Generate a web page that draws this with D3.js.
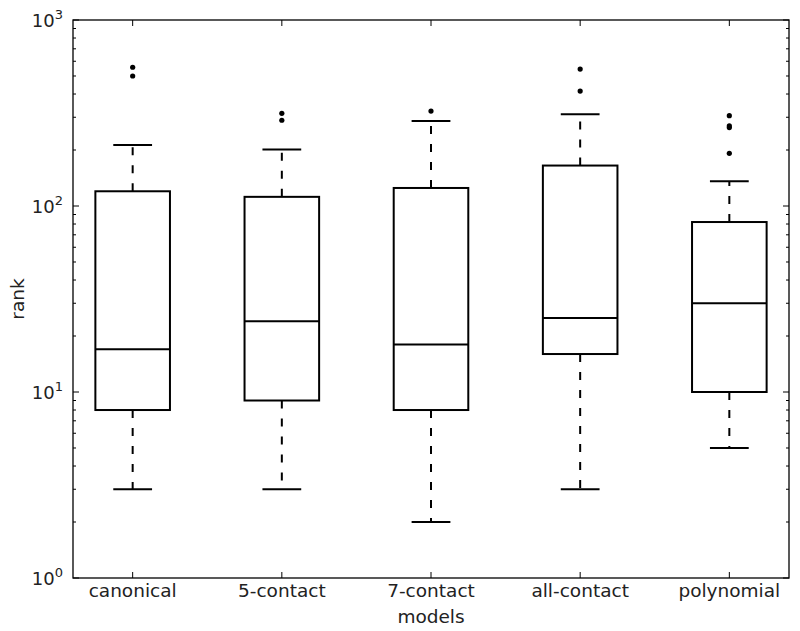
<!DOCTYPE html>
<html>
<head>
<meta charset="utf-8">
<script src="https://cdn.jsdelivr.net/npm/d3@7"></script>
<style>
body { margin: 0; background: #fff; }
svg { display: block; }
text { font-family: "DejaVu Sans", sans-serif; fill: #222; }
</style>
</head>
<body>
<svg id="chart" width="800" height="631"></svg>
<script>
const categories = ["canonical", "5-contact", "7-contact", "all-contact", "polynomial"];
const whiskerLow = [3, 3, 2, 3, 5];
const q1 = [8, 9, 8, 16, 10];
const median = [17, 24, 18, 25, 30];
const q3 = [120, 112, 125, 165, 82];
const whiskerHigh = [213, 201, 286, 311, 136];
const outliers = [[500, 557], [289, 315], [324], [415, 545], [192, 264, 270, 306]];
const yTickExps = [0, 1, 2, 3];

const svg = d3.select("#chart");
const pL = 73, pR = 789, pT = 20, pB = 578;

const x = d3.scalePoint().domain(categories).range([pL, pR]).padding(0.4);
const y = d3.scaleLog().domain([1, 1000]).range([pB, pT]);
const step = x.step();
const boxW = step * 0.5, capW = step * 0.26;

const g = svg.append("g");

categories.forEach((c, i) => {
  const cx = x(c);
  g.append("line").attr("x1", cx).attr("x2", cx).attr("y1", y(q3[i])).attr("y2", y(whiskerHigh[i]))
    .attr("stroke", "#000").attr("stroke-width", 2).attr("stroke-dasharray", "8,10");
  g.append("line").attr("x1", cx).attr("x2", cx).attr("y1", y(q1[i])).attr("y2", y(whiskerLow[i]))
    .attr("stroke", "#000").attr("stroke-width", 2).attr("stroke-dasharray", "8,10");
  [whiskerHigh[i], whiskerLow[i]].forEach(v => {
    g.append("line").attr("x1", cx - capW / 2).attr("x2", cx + capW / 2).attr("y1", y(v)).attr("y2", y(v))
      .attr("stroke", "#000").attr("stroke-width", 2);
  });
  g.append("rect").attr("x", cx - boxW / 2).attr("width", boxW)
    .attr("y", y(q3[i])).attr("height", y(q1[i]) - y(q3[i]))
    .attr("fill", "none").attr("stroke", "#000").attr("stroke-width", 2);
  g.append("line").attr("x1", cx - boxW / 2).attr("x2", cx + boxW / 2).attr("y1", y(median[i])).attr("y2", y(median[i]))
    .attr("stroke", "#000").attr("stroke-width", 2);
  outliers[i].forEach(v => {
    g.append("circle").attr("cx", cx).attr("cy", y(v)).attr("r", 2.6).attr("fill", "#000");
  });
});

svg.append("rect").attr("x", pL).attr("y", pT).attr("width", pR - pL).attr("height", pB - pT)
  .attr("fill", "none").attr("stroke", "#000").attr("stroke-width", 1.3);

const majors = yTickExps.map(e => Math.pow(10, e));
const minors = [];
for (let e = 0; e < 3; e++) for (let m = 2; m <= 9; m++) minors.push(m * Math.pow(10, e));
const tickG = svg.append("g").attr("stroke", "#000").attr("stroke-width", 1);
majors.forEach(v => {
  tickG.append("line").attr("x1", pL).attr("x2", pL + 6).attr("y1", y(v)).attr("y2", y(v));
  tickG.append("line").attr("x1", pR).attr("x2", pR - 6).attr("y1", y(v)).attr("y2", y(v));
});
minors.forEach(v => {
  tickG.append("line").attr("x1", pL).attr("x2", pL + 3).attr("y1", y(v)).attr("y2", y(v));
  tickG.append("line").attr("x1", pR).attr("x2", pR - 3).attr("y1", y(v)).attr("y2", y(v));
});
categories.forEach(c => {
  tickG.append("line").attr("x1", x(c)).attr("x2", x(c)).attr("y1", pB).attr("y2", pB - 6);
  tickG.append("line").attr("x1", x(c)).attr("x2", x(c)).attr("y1", pT).attr("y2", pT + 6);
});

yTickExps.forEach(e => {
  const t = svg.append("text").attr("x", pL - 10).attr("y", y(Math.pow(10, e)) + 7)
    .attr("text-anchor", "end").style("font-size", "18px");
  t.append("tspan").text("10");
  t.append("tspan").attr("dy", -8).style("font-size", "13px").text(e);
});

categories.forEach(c => {
  svg.append("text").attr("x", x(c)).attr("y", pB + 19).attr("text-anchor", "middle")
    .style("font-size", "18.5px").text(c);
});

svg.append("text").attr("x", (pL + pR) / 2).attr("y", 623).attr("text-anchor", "middle")
  .style("font-size", "18.5px").text("models");
svg.append("text").attr("transform", `translate(24, ${(pT + pB) / 2}) rotate(-90)`)
  .attr("text-anchor", "middle").style("font-size", "18.5px").text("rank");
</script>
</body>
</html>
